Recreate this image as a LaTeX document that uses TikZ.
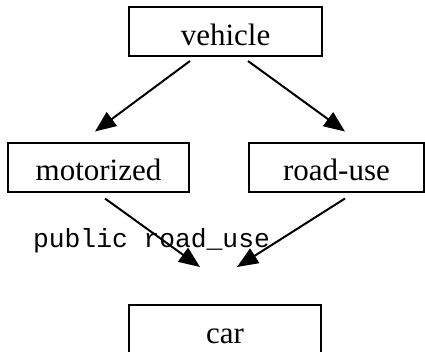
\documentclass[tikz,border=0pt]{standalone}
\usepackage{fontspec}
\setmainfont{Liberation Serif}
\setmonofont{Liberation Mono}
\usetikzlibrary{arrows.meta}

\begin{document}
\begin{tikzpicture}[x=1pt, y=-1pt,
    concept/.style={draw, line width=2pt, rectangle, inner sep=0pt,
      minimum height=49pt, text height=30pt, text depth=3pt,
      font=\fontsize{31pt}{36pt}\selectfont},
    isa/.style={line width=2pt, -{Triangle[length=21pt,width=17pt]}}]
  \useasboundingbox (0,0) rectangle (425,351);

  \node[concept, minimum width=193pt] (vehicle) at (225.5,31.5) {vehicle};

  \node[concept, minimum width=181pt] (motorized) at (98.5,167) {motorized};
  \node[concept, minimum width=175pt] (roaduse) at (336.5,167) {road-use};

  \node[concept, minimum width=192pt] (car) at (225,329.5) {car};

  \path[isa] ([xshift=-35.5pt,yshift=-4pt]vehicle.south) edge ([xshift=-3.5pt,yshift=10pt]motorized.north);
  \path[isa] ([xshift=22.5pt,yshift=-4pt]vehicle.south) edge ([xshift=8.5pt,yshift=10pt]roaduse.north);

  \path[isa] ([xshift=6.5pt,yshift=-6pt]motorized.south) edge ([xshift=-25pt,yshift=37pt]car.north);
  \path[isa] ([xshift=8.5pt,yshift=-6pt]roaduse.south) edge ([xshift=12pt,yshift=37pt]car.north);

  \node[anchor=base, font=\ttfamily\fontsize{26.3pt}{30pt}\selectfont] (reason) at (151.5,247) {public road\_use};
\end{tikzpicture}
\end{document}
